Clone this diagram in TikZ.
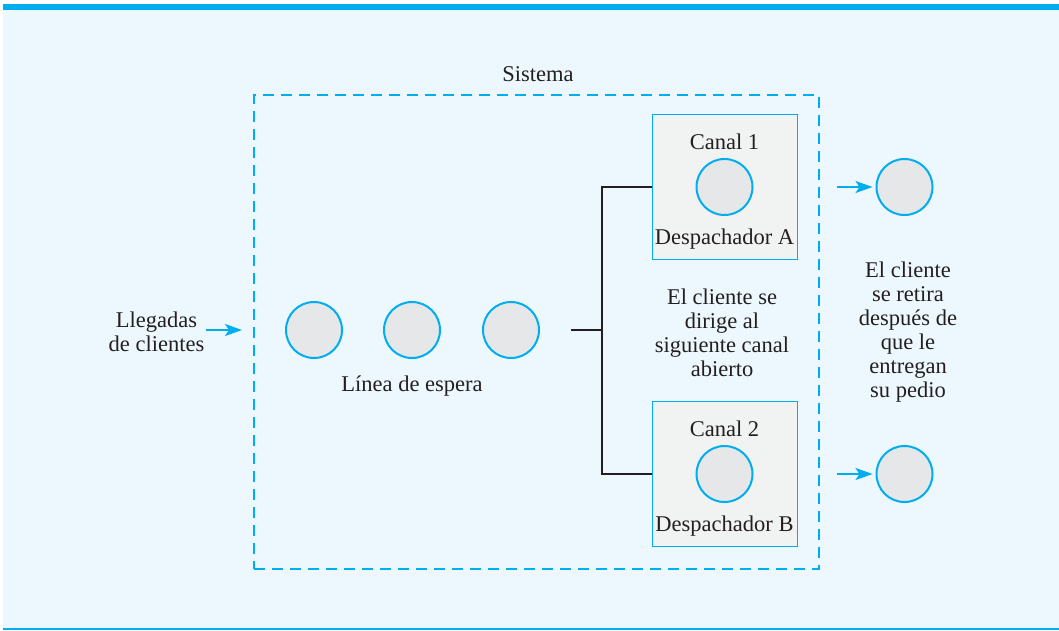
\documentclass[tikz,border=0pt]{standalone}
\usepackage{fontspec}
\setmainfont{Liberation Serif}
\usetikzlibrary{arrows.meta}
\definecolor{cy}{HTML}{00AEEF}
\definecolor{bg}{HTML}{ECF8FD}
\definecolor{cfill}{HTML}{E6E7E8}
\definecolor{bfill}{HTML}{F1F2F2}
\definecolor{ink}{HTML}{231F20}
\begin{document}
\begin{tikzpicture}[x=1pt,y=-1pt,
  font=\fontsize{22.5}{24}\selectfont,
  every node/.style={text=ink},
  cust/.style={circle,draw=cy,line width=2pt,fill=cfill,minimum size=56pt,inner sep=0pt},
  chan/.style={draw=cy,line width=1pt,fill=bfill,minimum width=145pt,minimum height=145pt,inner sep=0pt},
  sysbox/.style={draw=cy,line width=2pt,dash pattern=on 11pt off 7pt,minimum width=565pt,minimum height=474pt,inner sep=0pt},
  lbl/.style={anchor=base,inner sep=0pt},
  mlbl/.style={align=center,inner sep=0pt},
  arr/.style={draw=cy,line width=2pt,-{Stealth[length=17pt,width=12pt,inset=4pt]}},
  link/.style={draw=ink,line width=1.5pt}
]
\useasboundingbox (0,0) rectangle (1059,630);
\fill[bg] (3,4) rectangle (1059,630);
\fill[cy] (3,4) rectangle (1059,10);
\fill[cy] (3,627.5) rectangle (1059,630);

% system
\node[sysbox] (sys) at (536.5,332) {};
\node[lbl] (sistema) at (538,81) {Sistema};

% arrivals
\node[mlbl] (lleg) at (156.5,331.5) {Llegadas\\de clientes};
\coordinate (ain) at (206,330);
\coordinate (aout) at (242,330);
\draw[arr] (ain) -- (aout);

% queue
\node[cust] (q1) at (314,330) {};
\node[cust] (q2) at (412,330) {};
\node[cust] (q3) at (511,330) {};
\node[lbl] (linea) at (412,391) {Línea de espera};

% channels
\node[chan] (b1) at (724.5,186.5) {};
\node[lbl] (c1) at (724.5,149) {Canal 1};
\node[cust] (s1) at (724.5,187) {};
\node[lbl] (d1) at (724.5,244) {Despachador A};

\node[chan] (b2) at (724.5,474) {};
\node[lbl] (c2) at (724.5,436) {Canal 2};
\node[cust] (s2) at (724.5,474) {};
\node[lbl] (d2) at (724.5,531) {Despachador B};

% connector
\coordinate (qs) at (571,330);
\coordinate (j) at (602,330);
\draw[link] (qs) -- (j);
\draw[link] (b1.west |- s1) -| (j) |- (b2.west |- s2);

\node[mlbl] (mid) at (722,333) {El cliente se\\dirige al\\siguiente canal\\abierto};

% departures
\node[cust] (o1) at (904.5,187) {};
\node[cust] (o2) at (904.5,474) {};
\coordinate (e1) at (837,187);
\coordinate (e2) at (837,474);
\draw[arr,shorten >=3pt] (e1) -- (o1);
\draw[arr,shorten >=3pt] (e2) -- (o2);

\node[mlbl] (ret) at (908,332) {El cliente\\se retira\\después de\\que le\\entregan\\su pedio};
\end{tikzpicture}
\end{document}
